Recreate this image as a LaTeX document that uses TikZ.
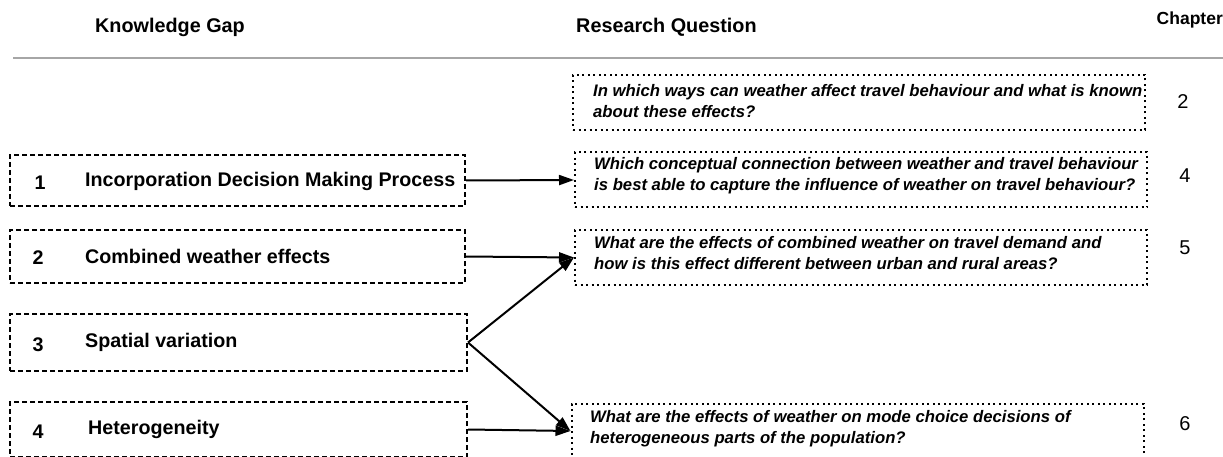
\documentclass[tikz,border=0pt]{standalone}
\usepackage{fontspec}
\setmainfont{Liberation Sans}
\newfontfamily\rqfont{Liberation Sans Bold Italic}
\usetikzlibrary{arrows.meta}
\tikzset{
  head/.style={font=\fontsize{19.8}{23}\selectfont\bfseries, inner sep=0pt},
  chap/.style={font=\fontsize{20}{24}\selectfont, inner sep=0pt},
  gapbox/.style={draw, line width=2pt, dash pattern=on 5pt off 3pt,
    minimum width=455pt, inner sep=0pt},
  gaptext/.style={font=\fontsize{19.7}{23}\selectfont\bfseries, inner sep=0pt},
  rqbox/.style={draw, line width=2pt, dash pattern=on 2pt off 3.5pt,
    minimum width=572pt, minimum height=55pt, inner sep=0pt},
  rqtext/.style={anchor=west, inner sep=0pt, align=left,
    font=\rqfont\fontsize{16.7}{21}\selectfont},
  link/.style={line width=2pt, -{Triangle[length=15pt,width=10pt]}}
}
\begin{document}
\begin{tikzpicture}[x=1pt,y=1pt]
\useasboundingbox (0,0) rectangle (1223,-457);

% column headers and rule
\node[head, anchor=west] (hgap) at (95,-27) {Knowledge Gap};
\node[head, anchor=west] (hrq) at (576,-27) {Research Question};
\node[head, font=\fontsize{17.5}{21}\selectfont\bfseries, anchor=east] (hch) at (1223,-20) {Chapter};
\draw[gray!70, line width=1.5pt] (13,-58) coordinate (r1) -- (1223,-58) coordinate (r2);

% knowledge gaps
\node[gapbox, minimum height=51pt] (g1) at (237.5,-180.5) {};
\node[gapbox, minimum height=53pt] (g2) at (237.5,-256.5) {};
\node[gapbox, minimum height=57pt, minimum width=457pt] (g3) at (238.5,-342.5) {};
\node[gapbox, minimum height=55pt, minimum width=457pt] (g4) at (238.5,-429.5) {};

\node[gaptext] (n1) at (40,-183) {1};
\node[gaptext, anchor=west] (t1) at (85,-181) {Incorporation Decision Making Process};
\node[gaptext] (n2) at (38,-258) {2};
\node[gaptext, anchor=west] (t2) at (85,-256) {Combined weather effects};
\node[gaptext] (n3) at (38,-345) {3};
\node[gaptext, anchor=west] (t3) at (85,-342) {Spatial variation};
\node[gaptext] (n4) at (38,-432) {4};
\node[gaptext, anchor=west] (t4) at (88,-429) {Heterogeneity};

% research questions
\node[rqbox] (qa) at (859,-102.5) {};
\node[rqbox] (qb) at (861,-180) {};
\node[rqbox] (qc) at (861,-257.5) {};
\node[rqbox] (qd) at (857.5,-431) {};

\node[rqtext] (qat) at (593,-101.5) {In which ways can weather affect travel behaviour and what is known\\about these effects?};
\node[rqtext] (qbt) at (594,-175.5) {Which conceptual connection between weather and travel behaviour\\is best able to capture the influence of weather on travel behaviour?};
\node[rqtext] (qct) at (594,-253.5) {What are the effects of combined weather on travel demand and\\how is this effect different between urban and rural areas?};
\node[rqtext] (qdt) at (590,-429) {What are the effects of weather on mode choice decisions of\\heterogeneous parts of the population?};

% chapters
\node[chap] (c2) at (1183,-102) {2};
\node[chap] (c4) at (1185,-176) {4};
\node[chap] (c5) at (1185,-248) {5};
\node[chap] (c6) at (1185,-424) {6};

% links
\draw[link] (g1.east) -- (qb.west);
\draw[link] (g2.east) -- (qc.west);
\draw[link] (g3.east) -- (qc.west);
\draw[link] (g3.east) -- (qd.west);
\draw[link] (g4.east) -- (qd.west);
\end{tikzpicture}
\end{document}
